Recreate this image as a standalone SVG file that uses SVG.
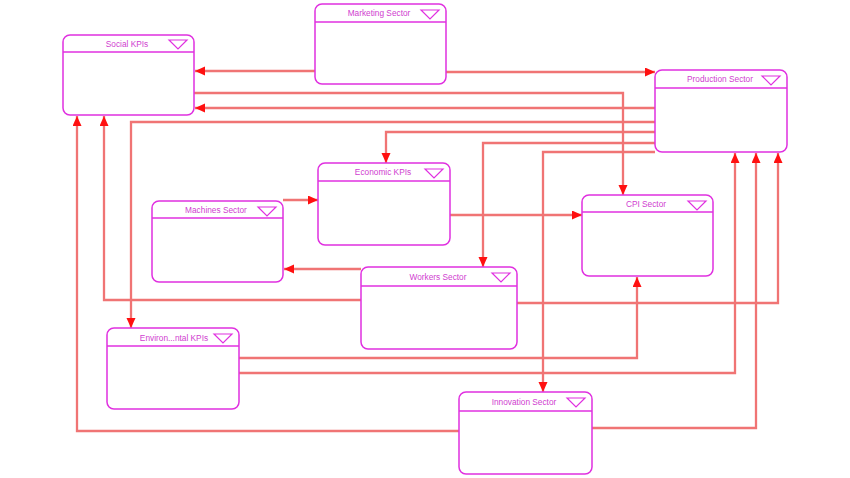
<svg xmlns="http://www.w3.org/2000/svg" width="850" height="478" viewBox="0 0 850 478">
<style>
.box{fill:#ffffff;stroke:#e030e0;stroke-width:1.5}
.hdr{stroke:#e030e0;stroke-width:1.3;fill:none}
.tri{fill:none;stroke:#e030e0;stroke-width:1.2}
.lbl{font-family:"Liberation Sans",Arial,sans-serif;font-size:8.3px;fill:#d040d0;text-anchor:middle}
.c{fill:none;stroke:#f07474;stroke-width:2.3;marker-end:url(#ah)}
</style>
<defs>
<marker id="ah" markerUnits="userSpaceOnUse" markerWidth="11" markerHeight="10" refX="10" refY="4.5" orient="auto">
<path d="M0,0 L10,4.5 L0,9 z" fill="#ff1010"/>
</marker>
</defs>
<rect width="850" height="478" fill="#ffffff"/>
<g id="connectors">
<path class="c" d="M315,71 H195"/>
<path class="c" d="M446,72 H655"/>
<path class="c" d="M194,93 H623 V195"/>
<path class="c" d="M655,108 H195"/>
<path class="c" d="M655,122 H131 V328"/>
<path class="c" d="M655,132 H386 V163"/>
<path class="c" d="M655,143 H483 V267"/>
<path class="c" d="M655,152 H543 V392"/>
<path class="c" d="M283,200 H318"/>
<path class="c" d="M450,215 H582"/>
<path class="c" d="M361,269 H284"/>
<path class="c" d="M361,300 H104 V116"/>
<path class="c" d="M517,303 H778 V153"/>
<path class="c" d="M239,358 H637 V277"/>
<path class="c" d="M239,373 H735 V153"/>
<path class="c" d="M592,428 H756 V153"/>
<path class="c" d="M459,431 H77 V116"/>
</g>
<g id="marketing">
<rect class="box" x="315" y="4" width="131" height="80" rx="7"/>
<line class="hdr" x1="315" y1="22" x2="446" y2="22"/>
<path class="tri" d="M421,10 L439,10 L430,19 z"/>
<text class="lbl" x="379" y="16">Marketing Sector</text>
</g>
<g id="social">
<rect class="box" x="63" y="35" width="131" height="80" rx="7"/>
<line class="hdr" x1="63" y1="52" x2="194" y2="52"/>
<path class="tri" d="M169,40 L187,40 L178,49 z"/>
<text class="lbl" x="127" y="47">Social KPIs</text>
</g>
<g id="production">
<rect class="box" x="655" y="70" width="132" height="82" rx="7"/>
<line class="hdr" x1="655" y1="88" x2="787" y2="88"/>
<path class="tri" d="M762,76 L780,76 L771,85 z"/>
<text class="lbl" x="720" y="82">Production Sector</text>
</g>
<g id="economic">
<rect class="box" x="318" y="163" width="132" height="82" rx="7"/>
<line class="hdr" x1="318" y1="181" x2="450" y2="181"/>
<path class="tri" d="M425,169 L443,169 L434,178 z"/>
<text class="lbl" x="383" y="175">Economic KPIs</text>
</g>
<g id="machines">
<rect class="box" x="152" y="201" width="131" height="81" rx="7"/>
<line class="hdr" x1="152" y1="218" x2="283" y2="218"/>
<path class="tri" d="M258,207 L276,207 L267,216 z"/>
<text class="lbl" x="216" y="213">Machines Sector</text>
</g>
<g id="cpi">
<rect class="box" x="582" y="195" width="131" height="81" rx="7"/>
<line class="hdr" x1="582" y1="212" x2="713" y2="212"/>
<path class="tri" d="M688,201 L706,201 L697,210 z"/>
<text class="lbl" x="646" y="207">CPI Sector</text>
</g>
<g id="workers">
<rect class="box" x="361" y="267" width="156" height="82" rx="7"/>
<line class="hdr" x1="361" y1="286" x2="517" y2="286"/>
<path class="tri" d="M492,273 L510,273 L501,282 z"/>
<text class="lbl" x="438" y="280">Workers Sector</text>
</g>
<g id="environ">
<rect class="box" x="107" y="328" width="132" height="81" rx="7"/>
<line class="hdr" x1="107" y1="346" x2="239" y2="346"/>
<path class="tri" d="M214,334 L232,334 L223,343 z"/>
<text class="lbl" x="174" y="341">Environ...ntal KPIs</text>
</g>
<g id="innovation">
<rect class="box" x="459" y="392" width="133" height="82" rx="7"/>
<line class="hdr" x1="459" y1="411" x2="592" y2="411"/>
<path class="tri" d="M567,398 L585,398 L576,407 z"/>
<text class="lbl" x="524" y="405">Innovation Sector</text>
</g>
</svg>
